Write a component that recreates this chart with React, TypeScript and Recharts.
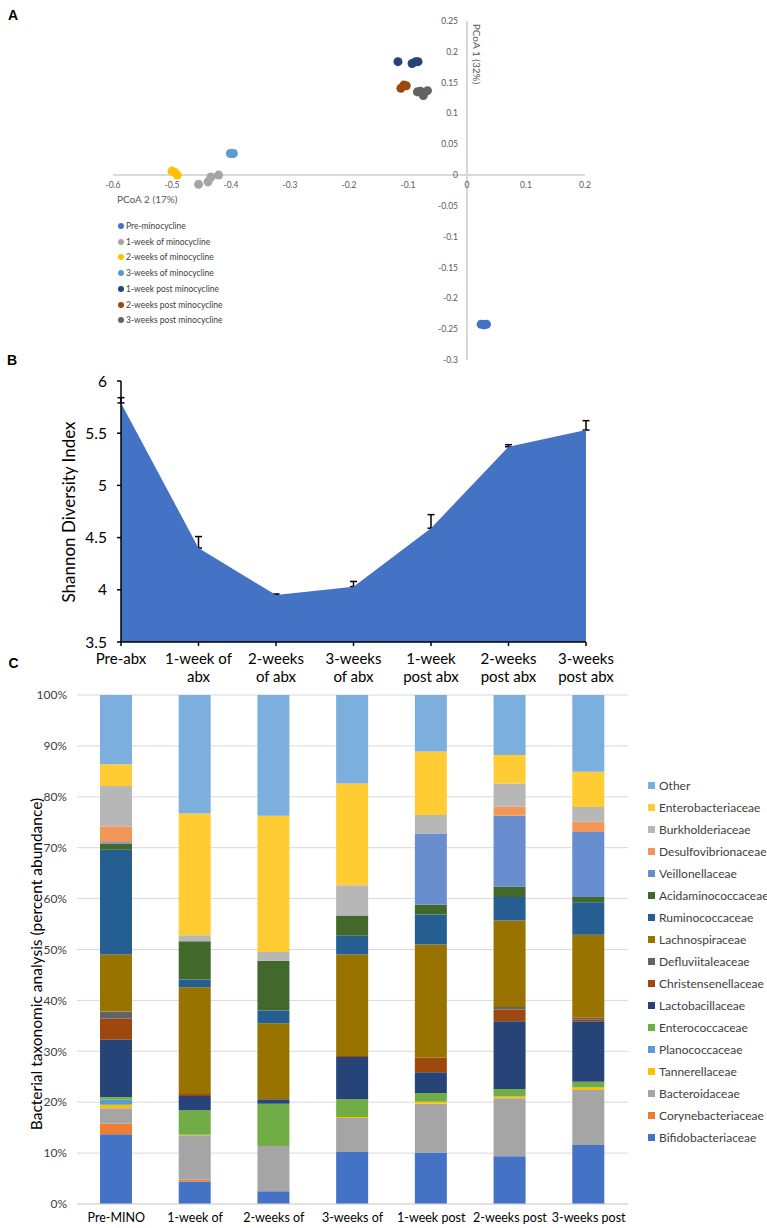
import React from 'react';
import {
  ScatterChart, Scatter, XAxis, YAxis, ZAxis, ReferenceLine, ReferenceDot,
  ComposedChart, Area, Line, ErrorBar, BarChart, Bar, CartesianGrid,
} from 'recharts';

const FONT = 'Lato, "Open Sans", sans-serif';

// ---- Panel A: PCoA ----
const preMinocycline = [{ x: 0.024, y: -0.242 }, { x: 0.029, y: -0.243 }, { x: 0.033, y: -0.242 }];
const week1OfMinocycline = [{ x: -0.455, y: -0.015 }, { x: -0.439, y: -0.011 }, { x: -0.434, y: -0.003 }, { x: -0.421, y: 0.0 }];
const weeks2OfMinocycline = [{ x: -0.5, y: 0.0065 }, { x: -0.495, y: 0.004 }, { x: -0.491, y: 0.0 }];
const weeks3OfMinocycline = [{ x: -0.401, y: 0.035 }, { x: -0.396, y: 0.035 }];
const week1PostMinocycline = [{ x: -0.117, y: 0.184 }, { x: -0.093, y: 0.181 }, { x: -0.087, y: 0.184 }, { x: -0.083, y: 0.184 }];
const weeks2PostMinocycline = [{ x: -0.112, y: 0.141 }, { x: -0.107, y: 0.146 }, { x: -0.103, y: 0.145 }];
const weeks3PostMinocycline = [{ x: -0.084, y: 0.135 }, { x: -0.074, y: 0.129 }, { x: -0.067, y: 0.137 }, { x: -0.079, y: 0.136 }];

const pcoaXTicks = [-0.6, -0.5, -0.4, -0.3, -0.2, -0.1, 0, 0.1, 0.2];
const pcoaYTicks = [0.25, 0.2, 0.15, 0.1, 0.05, 0, -0.05, -0.1, -0.15, -0.2, -0.25, -0.3];

const pcoaGroups = [
  { name: 'Pre-minocycline', data: preMinocycline, color: '#4472C4' },
  { name: '1-week of minocycline', data: week1OfMinocycline, color: '#A5A5A5' },
  { name: '2-weeks of minocycline', data: weeks2OfMinocycline, color: '#FFC000' },
  { name: '3-weeks of minocycline', data: weeks3OfMinocycline, color: '#5B9BD5' },
  { name: '1-week post minocycline', data: week1PostMinocycline, color: '#264478' },
  { name: '2-weeks post minocycline', data: weeks2PostMinocycline, color: '#9E480E' },
  { name: '3-weeks post minocycline', data: weeks3PostMinocycline, color: '#636363' },
];

// ---- Panel B: Shannon diversity ----
const abxStages = ['Pre-abx', '1-week of\nabx', '2-weeks\nof abx', '3-weeks\nof abx', '1-week\npost abx', '2-weeks\npost abx', '3-weeks\npost abx'];
const shannonIndex = [5.79, 4.4, 3.95, 4.03, 4.59, 5.37, 5.53];
const shannonError = [0.05, 0.11, 0.01, 0.05, 0.13, 0.02, 0.09];
const shannonTicks = [3.5, 4, 4.5, 5, 5.5, 6];

// ---- Panel C: taxonomy ----
const taxStages = ['Pre-MINO', '1-week of', '2-weeks of', '3-weeks of', '1-week post', '2-weeks post', '3-weeks post'];
const bifidobacteriaceae = [13.7, 4.4, 2.5, 10.2, 10.1, 9.4, 11.6];
const corynebacteriaceae = [2.1, 0.4, 0, 0, 0, 0, 0];
const bacteroidaceae = [3.0, 8.7, 8.9, 6.7, 9.6, 11.4, 10.8];
const tannerellaceae = [0.7, 0.1, 0, 0.2, 0.4, 0.3, 0.5];
const planococcaceae = [1.0, 0, 0, 0, 0, 0, 0];
const enterococcaceae = [0.5, 4.8, 8.3, 3.5, 1.7, 1.5, 1.1];
const lactobacillaceae = [11.3, 2.8, 0.9, 8.3, 4.1, 13.3, 11.9];
const christensenellaceae = [4.1, 0.4, 0, 0.2, 2.9, 2.3, 0.4];
const defluviitaleaceae = [1.4, 0, 0, 0, 0, 0.5, 0.3];
const lachnospiraceae = [11.2, 21.0, 14.9, 19.9, 22.2, 17.0, 16.3];
const ruminococcaceae = [20.6, 1.5, 2.5, 3.7, 5.9, 4.6, 6.4];
const acidaminococcaceae = [1.2, 7.5, 9.8, 4.0, 1.9, 2.1, 1.0];
const veillonellaceae = [0.3, 0, 0, 0, 14.0, 13.9, 12.8];
const desulfovibrionaceae = [3.1, 0, 0, 0, 0, 1.8, 2.0];
const burkholderiaceae = [7.9, 1.2, 1.7, 5.9, 3.6, 4.5, 2.9];
const enterobacteriaceae = [4.3, 23.9, 26.8, 20.0, 12.5, 5.6, 6.9];
const other = [13.6, 23.3, 23.7, 17.4, 11.1, 11.8, 15.1];
const percentTicks = [0, 10, 20, 30, 40, 50, 60, 70, 80, 90, 100];

// bottom -> top of the stack
const taxa = [
  { name: 'Bifidobacteriaceae', values: bifidobacteriaceae, color: '#4472C4' },
  { name: 'Corynebacteriaceae', values: corynebacteriaceae, color: '#ED7D31' },
  { name: 'Bacteroidaceae', values: bacteroidaceae, color: '#A5A5A5' },
  { name: 'Tannerellaceae', values: tannerellaceae, color: '#FFC000' },
  { name: 'Planococcaceae', values: planococcaceae, color: '#5B9BD5' },
  { name: 'Enterococcaceae', values: enterococcaceae, color: '#70AD47' },
  { name: 'Lactobacillaceae', values: lactobacillaceae, color: '#264478' },
  { name: 'Christensenellaceae', values: christensenellaceae, color: '#9E480E' },
  { name: 'Defluviitaleaceae', values: defluviitaleaceae, color: '#636363' },
  { name: 'Lachnospiraceae', values: lachnospiraceae, color: '#997300' },
  { name: 'Ruminococcaceae', values: ruminococcaceae, color: '#255E91' },
  { name: 'Acidaminococcaceae', values: acidaminococcaceae, color: '#43682B' },
  { name: 'Veillonellaceae', values: veillonellaceae, color: '#698ED0' },
  { name: 'Desulfovibrionaceae', values: desulfovibrionaceae, color: '#F1975A' },
  { name: 'Burkholderiaceae', values: burkholderiaceae, color: '#B7B7B7' },
  { name: 'Enterobacteriaceae', values: enterobacteriaceae, color: '#FFCD33' },
  { name: 'Other', values: other, color: '#7CAFDD' },
];

const shannonData = abxStages.map((stage, i) => ({
  stage,
  shannon: shannonIndex[i],
  err: [0, shannonError[i]],
}));

const taxData = taxStages.map((stage, i) => {
  const row: Record<string, any> = { stage };
  taxa.forEach((t) => { row[t.name] = t.values[i]; });
  return row;
});

const Txt = ({ left, top, size, color = '#000', angle = 0, bold = false, family = FONT, children }: any) => (
  <div
    style={{
      position: 'absolute', left, top, transform: `translate(-50%, -50%) rotate(${angle}deg)`,
      whiteSpace: 'nowrap', fontSize: size, color, fontFamily: family, lineHeight: 1,
      fontWeight: bold ? 700 : 400,
    }}
  >
    {children}
  </div>
);

const StageTick = ({ x, y, payload }: any) => {
  const lines = String(payload.value).split('\n');
  return (
    <text x={x} y={y} textAnchor="middle" fontSize={15} fill="#000" fontFamily={FONT}>
      {lines.map((l, i) => (
        <tspan key={i} x={x} dy={i === 0 ? 16 : 18}>{l}</tspan>
      ))}
    </text>
  );
};

const PcoaChart = () => (
  <ScatterChart width={767} height={380} margin={{ top: 21, right: 182, bottom: 20, left: 113 }}>
    <XAxis type="number" dataKey="x" domain={[-0.6, 0.2]} allowDataOverflow hide />
    <YAxis type="number" dataKey="y" domain={[-0.3, 0.25]} allowDataOverflow hide />
    <ZAxis range={[55, 55]} />
    <ReferenceLine x={0} stroke="#d9d9d9" strokeWidth={2} />
    <ReferenceLine y={0} stroke="#d9d9d9" strokeWidth={2} />
    {pcoaXTicks.map((t) => (
      <ReferenceDot key={'x' + t} x={t} y={0} r={0} fill="none" stroke="none"
        label={{ value: String(t), position: 'bottom', offset: 7, fill: '#595959', fontSize: 8.5, fontFamily: FONT }} />
    ))}
    {pcoaYTicks.map((t) => (
      <ReferenceDot key={'y' + t} x={0} y={t} r={0} fill="none" stroke="none"
        label={{ value: String(t), position: 'left', offset: 9, fill: '#595959', fontSize: 8.5, fontFamily: FONT }} />
    ))}
    {pcoaGroups.map((g) => (
      <Scatter key={g.name} name={g.name} data={g.data} fill={g.color} isAnimationActive={false} />
    ))}
  </ScatterChart>
);

const shannonMargin = { top: 21, right: 34, bottom: 8, left: 61 };

// error bars sit in their own layer underneath, so the area hides the lower cap
const ShannonErrorLayer = () => (
  <ComposedChart width={620} height={340} data={shannonData} margin={shannonMargin}>
    <XAxis dataKey="stage" scale="point" padding={{ left: 0, right: 0 }} height={50} axisLine={false} tickLine={false} tick={false} />
    <YAxis domain={[3.5, 6]} allowDataOverflow width={60} axisLine={false} tickLine={false} tick={false} />
    <Line dataKey="shannon" stroke="none" dot={false} activeDot={false} isAnimationActive={false}>
      <ErrorBar dataKey="err" width={3.5} stroke="#000" strokeWidth={1.5} />
    </Line>
  </ComposedChart>
);

const ShannonChart = () => (
  <ComposedChart width={620} height={340} data={shannonData} margin={shannonMargin}>
    <XAxis dataKey="stage" scale="point" padding={{ left: 0, right: 0 }} height={50} interval={0}
      axisLine={{ stroke: '#000', strokeWidth: 1.5 }} tickLine={{ stroke: '#000', strokeWidth: 1.5 }} tickSize={4}
      tick={<StageTick />} />
    <YAxis domain={[3.5, 6]} allowDataOverflow ticks={shannonTicks} width={60} interval={0}
      axisLine={{ stroke: '#000', strokeWidth: 1.5 }} tickLine={{ stroke: '#000', strokeWidth: 1.5 }} tickSize={4} tickMargin={10}
      tick={{ fontSize: 15.5, fill: '#000', fontFamily: FONT }} />
    <Area type="linear" dataKey="shannon" fill="#4472C4" fillOpacity={1} stroke="none" isAnimationActive={false} />
  </ComposedChart>
);

const TaxaChart = () => (
  <BarChart width={640} height={548} data={taxData} margin={{ top: 15, right: 12, bottom: 4, left: 17 }} barSize={32}>
    <CartesianGrid vertical={false} stroke="#d9d9d9" />
    <XAxis dataKey="stage" height={20} interval={0} axisLine={{ stroke: '#d9d9d9' }} tickLine={false} tickMargin={3}
      tick={{ fontSize: 12.5, fill: '#000', fontFamily: FONT }} />
    <YAxis domain={[0, 100]} allowDataOverflow ticks={percentTicks} width={60} interval={0}
      axisLine={false} tickLine={false} tickMargin={4} tickFormatter={(v: number) => `${v}%`}
      tick={{ fontSize: 12, fill: '#404040', fontFamily: FONT }} />
    {taxa.map((t) => (
      <Bar key={t.name} dataKey={t.name} stackId="taxa" fill={t.color} isAnimationActive={false} />
    ))}
  </BarChart>
);

export default function App() {
  return (
    <div style={{ position: 'absolute', left: 0, top: 0, width: 767, height: 1228, background: '#fff', fontFamily: FONT }}>
      <div style={{ position: 'absolute', left: 0, top: 0 }}><PcoaChart /></div>
      <div style={{ position: 'absolute', left: 0, top: 360 }}><ShannonErrorLayer /></div>
      <div style={{ position: 'absolute', left: 0, top: 360 }}><ShannonChart /></div>
      <div style={{ position: 'absolute', left: 0, top: 680 }}><TaxaChart /></div>

      <Txt left={13} top={15} size={14} bold family='"Liberation Sans", Arial, sans-serif'>A</Txt>
      <Txt left={12} top={360} size={14} bold family='"Liberation Sans", Arial, sans-serif'>B</Txt>
      <Txt left={13.5} top={663} size={14} bold family='"Liberation Sans", Arial, sans-serif'>C</Txt>

      <div style={{ position: 'absolute', left: 117, top: 194, fontSize: 10, color: '#595959', whiteSpace: 'nowrap', lineHeight: 1 }}>PCoA 2 (17%)</div>
      <Txt left={476.5} top={54} size={10} color="#595959" angle={90}>PCoA 1 (32%)</Txt>

      {pcoaGroups.map((g, i) => (
        <div key={g.name} style={{ position: 'absolute', left: 118, top: 226 + i * 15.7 - 6, height: 12, display: 'flex', alignItems: 'center', whiteSpace: 'nowrap' }}>
          <span style={{ width: 6, height: 6, borderRadius: 3, background: g.color, marginRight: 2 }} />
          <span style={{ fontSize: 8.5, color: '#404040' }}>{g.name}</span>
        </div>
      ))}

      <Txt left={67.5} top={512} size={17} angle={-90}>Shannon Diversity Index</Txt>
      <Txt left={37} top={964} size={15.5} color="#000" angle={-90}>Bacterial taxonomic analysis (percent abundance)</Txt>

      {taxa.slice().reverse().map((t, i) => (
        <div key={t.name} style={{ position: 'absolute', left: 648, top: 785.7 + i * 22 - 8, height: 16, display: 'flex', alignItems: 'center', whiteSpace: 'nowrap' }}>
          <span style={{ width: 7, height: 7, background: t.color, marginRight: 4 }} />
          <span style={{ fontSize: 12, color: '#404040' }}>{t.name}</span>
        </div>
      ))}
    </div>
  );
}
